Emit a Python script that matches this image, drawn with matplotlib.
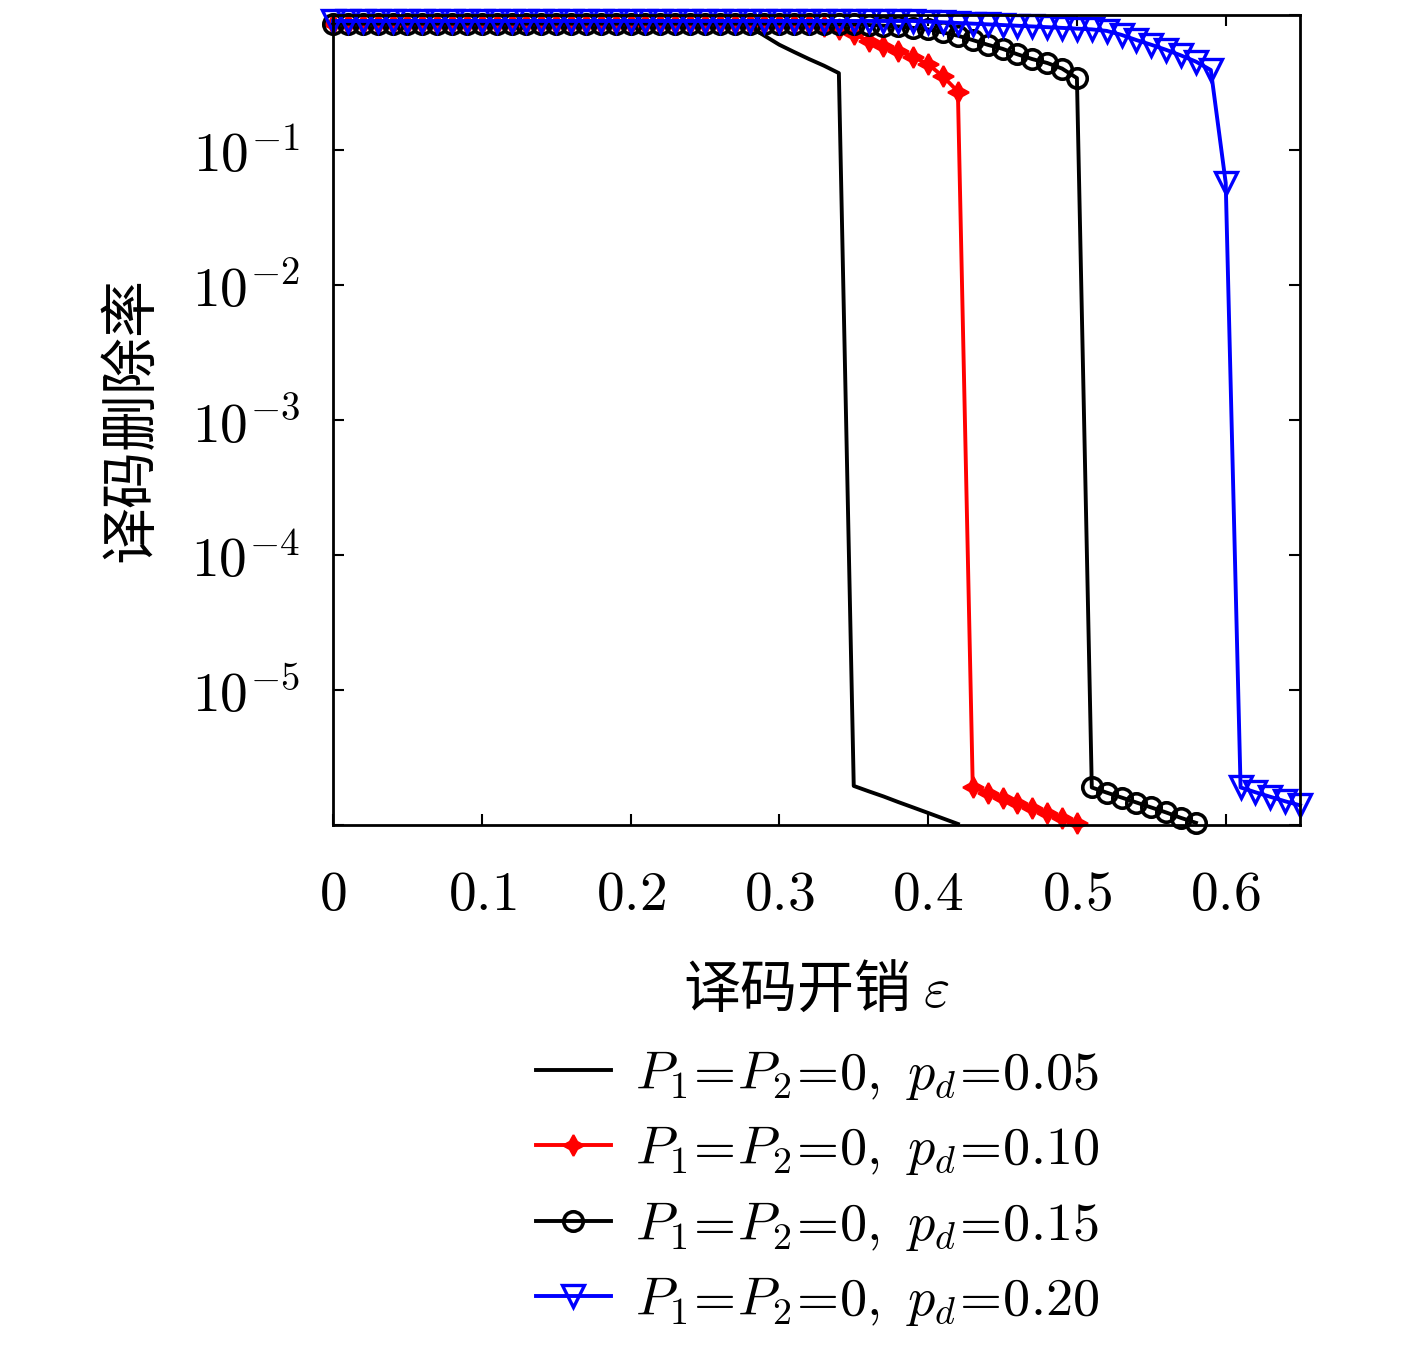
import numpy as np
import matplotlib
matplotlib.use("Agg")
import matplotlib.pyplot as plt
from matplotlib.ticker import FixedLocator, FixedFormatter, NullLocator

plt.rcParams['font.family'] = ['Noto Sans CJK SC', 'DejaVu Sans']
plt.rcParams['mathtext.fontset'] = 'cm'

# 译码开销 (x) の刻み 0.01
x_005 = np.round(np.arange(0, 43) * 0.01, 2)
x_010 = np.round(np.arange(0, 51) * 0.01, 2)
x_015 = np.round(np.arange(0, 59) * 0.01, 2)
x_020 = np.round(np.arange(0, 66) * 0.01, 2)

# p_d = 0.05 (线, 无标记)
y_005 = [0.84, 0.84, 0.84, 0.84, 0.84, 0.84, 0.84, 0.84, 0.84, 0.84,
         0.84, 0.84, 0.84, 0.84, 0.84, 0.84, 0.84, 0.84, 0.84, 0.84,
         0.84, 0.84, 0.84, 0.84, 0.84, 0.84, 0.84, 0.84, 0.82,
         0.70, 0.60, 0.53, 0.47, 0.42, 0.37,
         1.95e-6, 1.78e-6, 1.63e-6, 1.48e-6, 1.35e-6, 1.23e-6, 1.12e-6, 1.02e-6]
# p_d = 0.10
y_010 = [0.86, 0.86, 0.86, 0.86, 0.86, 0.86, 0.86, 0.86, 0.86, 0.86,
         0.86, 0.86, 0.86, 0.86, 0.86, 0.86, 0.86, 0.86, 0.86, 0.86,
         0.86, 0.86, 0.86, 0.86, 0.86, 0.86, 0.86, 0.86, 0.86, 0.86,
         0.86, 0.86, 0.85, 0.83, 0.79,
         0.72, 0.64, 0.59, 0.54, 0.49, 0.43, 0.35, 0.27,
         1.9e-6, 1.74e-6, 1.6e-6, 1.46e-6, 1.34e-6, 1.23e-6, 1.12e-6, 1.03e-6]
# p_d = 0.15
y_015 = [0.86, 0.86, 0.86, 0.86, 0.86, 0.86, 0.86, 0.86, 0.86, 0.86,
         0.86, 0.86, 0.86, 0.86, 0.86, 0.86, 0.86, 0.86, 0.86, 0.86,
         0.86, 0.86, 0.86, 0.86, 0.86, 0.86, 0.86, 0.86, 0.86, 0.86,
         0.86, 0.86, 0.86, 0.86, 0.85, 0.85, 0.84, 0.83, 0.82, 0.80,
         0.78, 0.74, 0.70, 0.65, 0.60, 0.56, 0.51, 0.47, 0.44, 0.40, 0.34,
         1.9e-6, 1.74e-6, 1.6e-6, 1.47e-6, 1.35e-6, 1.24e-6, 1.13e-6, 1.04e-6]
# p_d = 0.20
y_020 = [0.90, 0.90, 0.90, 0.90, 0.90, 0.90, 0.90, 0.90, 0.90, 0.90,
         0.90, 0.90, 0.90, 0.90, 0.90, 0.90, 0.90, 0.90, 0.90, 0.90,
         0.90, 0.90, 0.90, 0.90, 0.90, 0.90, 0.90, 0.90, 0.90, 0.90,
         0.90, 0.90, 0.90, 0.90, 0.90, 0.90, 0.90, 0.90, 0.90, 0.90,
         0.89, 0.88, 0.87, 0.86, 0.85, 0.84, 0.83, 0.82, 0.81, 0.80,
         0.79, 0.78, 0.76, 0.71, 0.65, 0.60, 0.55, 0.50, 0.45, 0.39,
         0.057,
         1.9e-6, 1.75e-6, 1.62e-6, 1.5e-6, 1.4e-6]

labels = [r'$P_1\!=\!P_2\!=\!0,\ p_d\!=\!0.05$',
          r'$P_1\!=\!P_2\!=\!0,\ p_d\!=\!0.10$',
          r'$P_1\!=\!P_2\!=\!0,\ p_d\!=\!0.15$',
          r'$P_1\!=\!P_2\!=\!0,\ p_d\!=\!0.20$']

xticks = [0, 0.1, 0.2, 0.3, 0.4, 0.5, 0.6]
xtick_labels = ['$0$', '$0.1$', '$0.2$', '$0.3$', '$0.4$', '$0.5$', '$0.6$']
yticks = [1e-6, 1e-5, 1e-4, 1e-3, 1e-2, 1e-1, 1e0]
ytick_labels = ['', '$10^{-5}$', '$10^{-4}$', '$10^{-3}$', '$10^{-2}$', '$10^{-1}$', '']

fig = plt.figure(figsize=(14.17, 13.46), dpi=100)
ax = fig.add_axes([0.235, 0.387, 0.6825, 0.602])

lw = 2.8
l1, = ax.plot(x_005, y_005, color='black', lw=lw, clip_on=False)
l2, = ax.plot(x_010, y_010, color='red', lw=lw, marker=(4, 1, 0), ms=15,
              mfc='red', mec='red', mew=1.5, clip_on=False)
l3, = ax.plot(x_015, y_015, color='black', lw=lw, marker='o', ms=14,
              mfc='none', mec='black', mew=2.6, clip_on=False)
l4, = ax.plot(x_020, y_020, color='blue', lw=lw, marker='v', ms=16,
              mfc='none', mec='blue', mew=2.4, clip_on=False)

ax.set_yscale('log')
ax.set_xlim(0, 0.65)
ax.set_ylim(1e-6, 1)
ax.xaxis.set_major_locator(FixedLocator(xticks))
ax.xaxis.set_major_formatter(FixedFormatter(xtick_labels))
ax.yaxis.set_major_locator(FixedLocator(yticks))
ax.yaxis.set_major_formatter(FixedFormatter(ytick_labels))
ax.yaxis.set_minor_locator(NullLocator())
ax.xaxis.set_minor_locator(NullLocator())
ax.tick_params(direction='in', length=8, width=1.5, top=True, right=True,
               labelsize=40)
ax.tick_params(axis='x', pad=29)
ax.tick_params(axis='y', pad=24)
for s in ax.spines.values():
    s.set_linewidth(2)

ax.set_xlabel(r'译码开销 $\varepsilon$', fontsize=41, labelpad=28)
ax.set_ylabel('译码删除率', fontsize=41, labelpad=22)

fig.legend([l1, l2, l3, l4], labels, loc='center left',
           bbox_to_anchor=(0.359, 0.118), frameon=False, fontsize=39,
           handlelength=1.38, handletextpad=0.45, labelspacing=0.36,
           borderpad=0)

fig.savefig('out.png', dpi=100, facecolor='white')
